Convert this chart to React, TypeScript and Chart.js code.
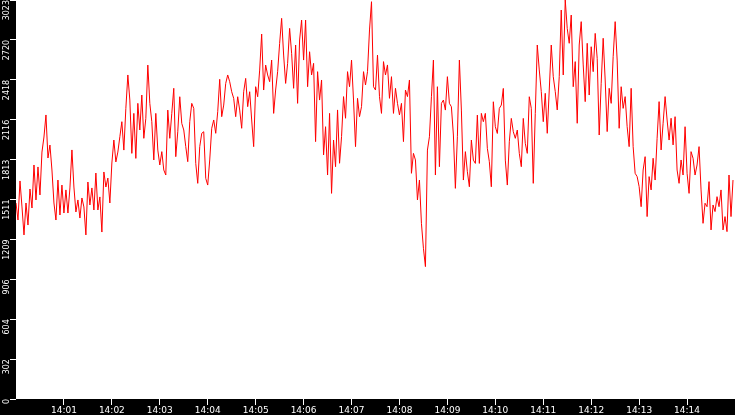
import React, { useEffect, useRef } from "react";
import { Chart, registerables } from "chart.js";

Chart.register(...registerables);

// seconds between samples, starting at 14:00:00
const sampleSeconds = 2.5;

const values = [
  1485,1356,1652,1455,1243,1485,1318,1591,1447,1773,
  1508,1758,1546,1871,1985,2152,1826,1924,1735,1485,
  1356,1659,1394,1621,1409,1584,1409,1599,1887,1606,
  1417,1508,1371,1523,1455,1243,1644,1470,1599,1432,
  1712,1432,1531,1265,1720,1606,1674,1485,1788,1962,
  1796,1871,
  1987,2101,1886,2202,2455,2265,1861,2164,1823,2240,
  2038,2303,1975,2126,2530,2240,2101,1811,2164,1886,
  1773,1874,1735,1697,2189,1975,2164,2354,1836,2025,
  2290,2088,2038,1912,1798,2101,2240,2202,1785,1634,
  1912,2013,2025,1672,1621,1811,2051,2114,2013,2177,
  2422,
  2139,2227,2391,2455,2404,2328,2278,2139,2290,2189,
  2051,2328,2429,2215,2328,2114,1912,2366,2290,2492,
  2765,2341,2530,2455,2404,2568,2164,2341,2480,2694,
  2884,2606,2391,2543,2808,2619,2354,2682,2240,2720,
  2871,2568,2871,2366,2631,2455,2543,1950,2480,2265,
  2417,1849,
  2063,1697,2164,1558,1962,1760,2190,1786,1988,2291,
  2127,2480,2366,2568,2265,1912,2278,2139,2215,2480,
  2379,2480,2796,3010,2366,2341,2606,2291,2164,2556,
  2455,2531,2278,2442,2164,2354,2240,2152,2240,1950,
  2341,2291,2417,1710,1861,1811,1508,1659,1331,1142,
  1003,
  1886,1987,2290,2568,1697,2366,1760,2240,2265,2189,
  2442,2240,2214,2000,1596,1987,2568,2189,1659,1874,
  1722,1608,1962,1810,1785,2151,1785,2164,2101,2164,
  1899,1798,1608,2252,2063,2012,2202,2227,2353,1810,
  1621,1949,2126,2025,1975,2038,1861,1760,2126,1937,
  1861,2290,
  2202,1634,2164,2682,2493,2329,2101,2316,2013,2341,
  2682,2442,2329,2190,2442,2947,2455,3023,2808,2695,
  2909,2366,2556,2089,2682,2859,2531,2253,2695,2303,
  2669,2480,2770,2581,2000,2392,2733,2417,2026,2354,
  2240,2594,2859,2568,2051,2366,2202,2291,2063,1912,
  2354,
  1912,1710,1685,
  1609,1457,1735,1836,1382,1685,1584,1824,1659,1975,
  2253,1887,2089,2291,2114,1962,2127,1925,2139,1735,
  1634,1811,1697,2063,1710,1558,1874,1824,1697,1773,
  1912,1584,1331,1483,1457,1647,1281,1470,1420,1533,
  1457,1584,1281,1382,1268,1697,1382,1659,
];

const xMinSeconds = 0;
const xMaxSeconds = 900;
const xTickSeconds = [60, 120, 180, 240, 300, 360, 420, 480, 540, 600, 660, 720, 780, 840];
const xTickLabels = [
  "14:01", "14:02", "14:03", "14:04", "14:05", "14:06", "14:07",
  "14:08", "14:09", "14:10", "14:11", "14:12", "14:13", "14:14",
];

const yMax = 3023;
const yTickLabels = ["0", "302", "604", "906", "1209", "1511", "1813", "2116", "2418", "2720", "3023"];

export default function App() {
  const ref = useRef<HTMLCanvasElement>(null);

  useEffect(() => {
    if (!ref.current) return;
    const points = values.map((v, i) => ({ x: xMinSeconds + i * sampleSeconds, y: v }));

    const background = {
      id: "background",
      beforeDraw(chart: any) {
        const { ctx, chartArea: a, width, height } = chart;
        ctx.save();
        ctx.fillStyle = "#000000";
        ctx.fillRect(0, 0, width, height);
        ctx.fillStyle = "#ffffff";
        ctx.fillRect(a.left, a.top, a.right - a.left, a.bottom - a.top);
        ctx.restore();
      },
    };

    const chart = new Chart(ref.current, {
      type: "line",
      data: {
        datasets: [
          {
            data: points,
            borderColor: "#ff0000",
            borderWidth: 1,
            pointRadius: 0,
            tension: 0,
            fill: false,
          },
        ],
      },
      options: {
        animation: false,
        responsive: false,
        devicePixelRatio: 1,
        layout: { padding: 0 },
        plugins: { legend: { display: false }, tooltip: { enabled: false } },
        scales: {
          x: {
            type: "linear",
            min: xMinSeconds,
            max: xMaxSeconds,
            afterFit(s: any) {
              s.height = 16;
              s.paddingLeft = 0;
              s.paddingRight = 0;
            },
            afterBuildTicks(s: any) {
              s.ticks = xTickSeconds.map((v) => ({ value: v }));
            },
            ticks: {
              autoSkip: false,
              minRotation: 0,
              maxRotation: 0,
              color: "#ffffff",
              padding: 0,
              font: { family: "DejaVu Sans", size: 9 },
              callback: (_v: any, i: number) => xTickLabels[i],
            },
            grid: { drawOnChartArea: false, color: "#ffffff", tickLength: 6, tickWidth: 1 },
            border: { display: false },
          },
          y: {
            type: "linear",
            min: 0,
            max: yMax,
            afterFit(s: any) {
              s.width = 16;
              s.paddingTop = 0;
              s.paddingBottom = 0;
            },
            afterBuildTicks(s: any) {
              s.ticks = yTickLabels.map((_l, i) => ({ value: (i * yMax) / (yTickLabels.length - 1) }));
            },
            ticks: {
              autoSkip: false,
              minRotation: 90,
              maxRotation: 90,
              color: "#ffffff",
              padding: 3.5,
              font: { family: "DejaVu Sans", size: 8 },
              callback: (_v: any, i: number) => yTickLabels[i],
            },
            grid: { drawOnChartArea: false, color: "#ffffff", tickLength: 6, tickWidth: 1 },
            border: { display: false },
          },
        },
      },
      plugins: [background],
    });
    return () => chart.destroy();
  }, []);

  return (
    <div style={{ position: "fixed", left: 0, top: 0, width: 735, height: 415, background: "#000" }}>
      <canvas ref={ref} width={735} height={415} style={{ display: "block", width: 735, height: 415 }} />
    </div>
  );
}
